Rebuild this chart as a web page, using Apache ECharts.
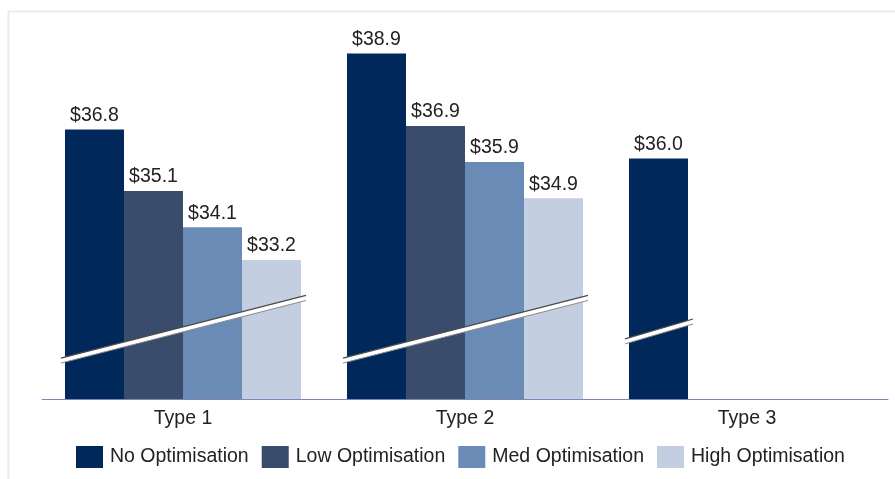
<!DOCTYPE html>
<html><head><meta charset="utf-8">
<script src="https://cdn.jsdelivr.net/npm/echarts@6/dist/echarts.min.js"></script>
<style>html,body{margin:0;padding:0;background:#fff}#c{width:895px;height:479px}</style>
</head><body><div id="c"></div>
<script>
var categories = ['Type 1', 'Type 2', 'Type 3'];
var seriesNames = ['No Optimisation', 'Low Optimisation', 'Med Optimisation', 'High Optimisation'];
var noOpt = [36.8, 38.9, 36.0];
var lowOpt = [35.1, 36.9, null];
var medOpt = [34.1, 35.9, null];
var highOpt = [33.2, 34.9, null];
var breakStart = [30.42, 30.42, 30.95];
var breakEnd = [32.15, 32.15, 31.50];

var colors = ['#00285a', '#394c6c', '#6b8bb7', '#c3cee1'];
var allVals = [noOpt, lowOpt, medOpt, highOpt];
var chart = echarts.init(document.getElementById('c'));
var font = 'Liberation Sans, Arial, sans-serif';
var GAP = 0.163;

var barSeries = seriesNames.map(function (n, k) {
  return {
    name: n, type: 'bar', data: allVals[k], barGap: '0%', barCategoryGap: '16.3%',
    itemStyle: { color: colors[k] },
    label: { show: true, position: 'top', distance: 4, color: '#222', fontSize: 19.5, fontFamily: font,
      formatter: function (p) { return '$' + p.value.toFixed(1); } }
  };
});

var breakData = categories.map(function (c, i) {
  var n = allVals.filter(function (a) { return a[i] != null; }).length;
  return [i, breakStart[i], breakEnd[i], n];
});

barSeries.push({
  type: 'custom', silent: true, z: 10, data: breakData,
  encode: { x: 0, y: [1, 2] },
  renderItem: function (params, api) {
    var i = api.value(0), n = api.value(3);
    var bw = api.size([1, 0])[0];
    var groupW = bw * (1 - GAP);
    var barW = groupW / 4;
    var c = api.coord([i, 0]);
    var x0 = c[0] - groupW / 2 - 4;
    var x1 = c[0] - groupW / 2 + n * barW + 5;
    var y0 = api.coord([i, api.value(1)])[1];
    var y1 = api.coord([i, api.value(2)])[1];
    var h = 2.5;
    return { type: 'group', children: [
      { type: 'polygon', shape: { points: [[x0, y0 - h], [x1, y1 - h], [x1, y1 + h], [x0, y0 + h]] },
        style: { fill: '#fff' } },
      { type: 'line', shape: { x1: x0, y1: y0 - h, x2: x1, y2: y1 - h }, style: { stroke: '#4a4a4a', lineWidth: 1.2 } },
      { type: 'line', shape: { x1: x0, y1: y0 + h, x2: x1, y2: y1 + h }, style: { stroke: '#8a8a8a', lineWidth: 1 } }
    ]};
  }
});

chart.setOption({
  animation: false,
  backgroundColor: '#fff',
  graphic: [{ type: 'rect', left: 6, top: 9, shape: { width: 1000, height: 600 },
    style: { fill: null, stroke: '#ececec', lineWidth: 2 }, silent: true }],
  grid: { left: 42, right: 7, top: 10, bottom: 80 },
  legend: {
    data: seriesNames, left: 76, top: 446, padding: 0, itemWidth: 27, itemHeight: 22, itemGap: 13,
    icon: 'rect', textStyle: { fontSize: 19.5, color: '#222', fontFamily: font, padding: [3, 0, 0, 2] }
  },
  xAxis: {
    type: 'category', data: categories,
    axisLine: { lineStyle: { color: '#7c86b8', width: 1 } },
    axisTick: { show: false },
    axisLabel: { fontSize: 19.5, color: '#222', fontFamily: font, margin: 10 }
  },
  yAxis: { type: 'value', min: 29.36, max: 40.1, show: false, splitLine: { show: false } },
  series: barSeries
});
</script></body></html>
